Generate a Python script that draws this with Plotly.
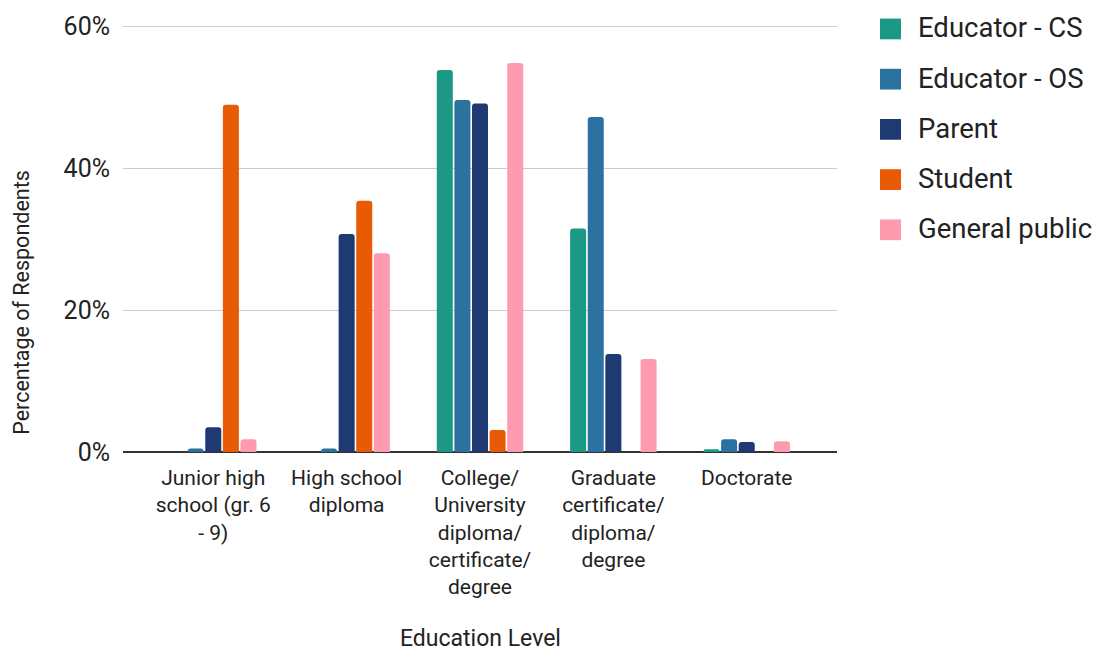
import plotly.graph_objects as go

# Education levels (x-axis categories)
categories = [
    "Junior high<br>school (gr. 6<br>- 9)",
    "High school<br>diploma",
    "College/<br>University<br>diploma/<br>certificate/<br>degree",
    "Graduate<br>certificate/<br>diploma/<br>degree",
    "Doctorate",
]

# Share of respondents (%) per group
educator_cs = [0.0, 0.0, 53.8, 31.5, 0.4]
educator_os = [0.5, 0.5, 49.6, 47.2, 1.8]
parent = [3.5, 30.7, 49.1, 13.8, 1.4]
student = [48.9, 35.4, 3.1, 0.0, 0.0]
general_public = [1.8, 28.0, 54.8, 13.1, 1.5]

series_names = ["Educator - CS", "Educator - OS", "Parent", "Student", "General public"]
series_values = [educator_cs, educator_os, parent, student, general_public]
series_colors = ["#1b9985", "#2c72a0", "#1f3a73", "#e85a04", "#fe9bae"]

y_ticks = [0, 20, 40, 60]
y_tick_labels = ["0%", "20%", "40%", "60%"]

FONT = "Roboto, Arial, sans-serif"
TEXT = "#222222"

fig = go.Figure()
for name, vals, col in zip(series_names, series_values, series_colors):
    fig.add_trace(go.Bar(
        x=categories, y=vals, name=name,
        marker=dict(color=col, line=dict(width=0), cornerradius=3),
        showlegend=False,
    ))

W, H = 1102, 651
ml, mr, mt, mb = 123, 265, 20, 199
pw = W - ml - mr
ph = H - mt - mb

# the chart area is a little wider than the category bands
x_pad = 0.177

fig.update_layout(
    width=W, height=H,
    margin=dict(l=ml, r=mr, t=mt, b=mb),
    paper_bgcolor="white", plot_bgcolor="white",
    barmode="group", bargap=0.34, bargroupgap=0.09,
    font=dict(family=FONT, color=TEXT),
    xaxis=dict(
        range=[-0.5 - x_pad, len(categories) - 0.5 + x_pad],
        showgrid=False, ticks="", showline=False,
        ticklabelstandoff=11,
        tickfont=dict(size=21, color=TEXT),
    ),
    yaxis=dict(
        # small headroom so the 60% gridline is drawn inside the plot area
        range=[0, 60.15], tickvals=y_ticks, ticktext=y_tick_labels,
        showgrid=True, gridcolor="#cccccc", gridwidth=1,
        zeroline=True, zerolinecolor="#333333", zerolinewidth=2,
        showline=False, ticks="", ticklabelstandoff=12,
        tickfont=dict(size=25, color=TEXT),
    ),
)

# axis titles
fig.add_annotation(
    text="Education Level", xref="paper", yref="paper",
    x=0.5, y=-(641 - (H - mb)) / ph, yanchor="middle",
    showarrow=False, font=dict(size=23, color=TEXT),
)
fig.add_annotation(
    text="Percentage of Respondents", xref="paper", yref="paper",
    x=-(ml - 22) / pw, xanchor="center",
    y=((H - mb) - 301) / ph, yanchor="middle",
    textangle=-90, showarrow=False, font=dict(size=21.5, color=TEXT),
)

# legend: square swatches with labels on the right
leg_x0 = 880
leg_y0 = 24
leg_step = 50.8
sw = 21
for i, (name, col) in enumerate(zip(series_names, series_colors)):
    cy = leg_y0 + i * leg_step
    fig.add_shape(
        type="rect", xref="paper", yref="paper",
        x0=(leg_x0 - ml) / pw, x1=(leg_x0 + sw - ml) / pw,
        y0=((H - mb) - (cy + sw / 2)) / ph, y1=((H - mb) - (cy - sw / 2)) / ph,
        fillcolor=col, line=dict(width=0),
    )
    fig.add_annotation(
        text=name, xref="paper", yref="paper",
        x=(leg_x0 + 36 - ml) / pw, xanchor="left",
        y=((H - mb) - (cy - 1)) / ph, yanchor="middle",
        showarrow=False, font=dict(size=27.5, color=TEXT),
    )

fig.write_html("out.html")
